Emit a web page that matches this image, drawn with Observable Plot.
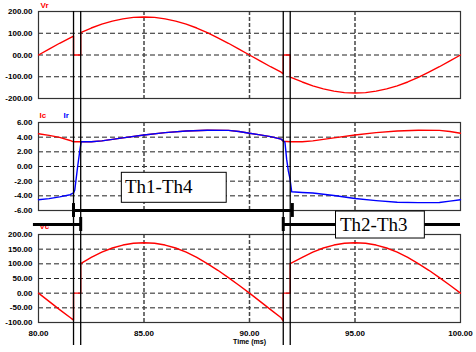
<!DOCTYPE html>
<html><head><meta charset="utf-8">
<script src="https://cdn.jsdelivr.net/npm/d3@7"></script>
<script src="https://cdn.jsdelivr.net/npm/@observablehq/plot@0.6"></script>
<style>
body{margin:0;background:#fff;}
#chart{position:relative;width:476px;height:352px;overflow:hidden;background:#fff;}
#chart svg{position:absolute;left:0;}
</style></head><body><div id="chart"></div>
<script>
// ---- data ----
const vrTime = [80,80.5,81,81.5,81.66, 81.66,82.0, 82.0,82.5,83,83.5,84,84.5,85,85.5,86,86.5,87,87.5,88,88.5,89,89.5,90,90.5,91,91.5,91.6, 91.6,91.93, 91.93,92.5,93,93.5,94,94.5,95,95.5,96,96.5,97,97.5,98,98.5,99,99.5,100];
const vrValue = [0,27,54,79,87, 0,0, 103,124,142,156,166,173,175,173,166,156,142,124,103,79,54,27,0,-27,-54,-79,-87, 0,0, -102,-124,-142,-156,-166,-173,-175,-173,-166,-156,-142,-124,-103,-79,-54,-27,0];

const vcTime = vrTime;
const vcValue = [0,-28,-56,-83,-92, 0,0, 101,122,140,154,164,170,172,170,164,154,140,122,101,78,53,27,0,-28,-56,-84,-95, 0,0, 101,122,140,154,164,170,172,170,164,154,140,122,101,78,53,27,0];

const icTime = [80,80.5,81,81.5,81.66,82.0,82.5,83,84,85,86,87,88,89,89.5,90,90.5,91,91.5,91.6,91.93,92.5,93,94,95,96,97,98,99,99.5,100];
const icValue = [4.46,4.25,3.98,3.55,3.37,3.37,3.38,3.5,3.9,4.3,4.62,4.85,4.95,4.93,4.78,4.54,4.32,4.08,3.73,3.45,3.37,3.38,3.5,3.9,4.3,4.62,4.85,4.95,4.93,4.78,4.54];

const irTime = [80,80.5,81,81.5,81.66,81.72,81.86,81.96,82.02,82.5,83,84,85,86,87,88,89,89.5,90,90.5,91,91.5,91.6,91.68,91.76,91.84,91.92,92.0,92.5,93,94,95,96,97,98,99,99.5,100];
const irValue = [-4.54,-4.38,-4.15,-3.85,-3.6,-3.2,0.1,2.2,3.37,3.38,3.5,3.9,4.3,4.62,4.85,4.95,4.93,4.78,4.54,4.32,4.08,3.73,3.5,3.3,1.0,-0.6,-1.7,-3.45,-3.55,-3.62,-3.95,-4.36,-4.65,-4.88,-4.92,-4.9,-4.72,-4.54];

const xTicks = [80,85,90,95,100];
const xTickLabels = ["80.00","85.00","90.00","95.00","100.00"];
const gridTimes = [85,90,95];
const vrTicks = [-200,-100,0,100,200];
const vrTickLabels = ["-200.00","-100.00","00.00","100.00","200.00"];
const iTicks = [-6,-4,-2,0,2,4,6];
const iTickLabels = ["-6.00","-4.00","-2.00","0.00","2.00","4.00","6.00"];
const vcTicks = [-100,-50,0,50,100,150,200];
const vcTickLabels = ["-100.00","-50.00","0.00","50.00","100.00","150.00","200.00"];

const commutationTimes = [81.66,82.0,91.6,91.93];

const thLabels = ["Th1-Th4","Th2-Th3"];
const thBoxX1 = [83.95,94.10], thBoxX2 = [88.92,98.31];
const thBoxY1 = [-0.86,-6.14], thBoxY2 = [-4.95,-9.82];
const thTextX = [84.1,94.29], thTextY = [-2.84,-7.98];
const thBarX1 = [81.66,79.76,91.6], thBarX2 = [92.03,82.0,100], thBarY = [-6,-7.9,-7.9];
const thTickX = [81.66,92.03,82.0,91.6];
const thTickY1 = [-5.05,-5.05,-6.95,-6.95], thTickY2 = [-6.95,-6.95,-8.86,-8.86];

// ---- layout ----
const W = 476, ML = 38, MR = 16;
const RED = "#ff0000", BLUE = "#0000ff";
const chart = document.getElementById("chart");
const pts = (t, v) => t.map((x, i) => ({t: x, v: v[i]}));

function panel({top, height, mt, mb, domain, ticks, labels, series, names, xAxis}) {
  const interior = ticks.slice(1, -1);
  const marks = [
    Plot.ruleY(interior, {stroke: "#222", strokeDasharray: "5,3", strokeWidth: 1}),
    Plot.ruleX(gridTimes, {stroke: "#444", strokeDasharray: "4,2", strokeWidth: 1.5}),
    Plot.frame({stroke: "#333", strokeWidth: 1.2}),
    ...series.map(s => Plot.line(pts(s.t, s.v), {x: "t", y: "v", stroke: s.color, strokeWidth: 1.4})),
    ...names.map(n => Plot.text([n.text], {frameAnchor: "top-left", textAnchor: "start", lineAnchor: "middle", dx: n.dx, dy: n.dy, fill: n.color, fontSize: 8, fontWeight: "bold"}))
  ];
  if (xAxis) marks.push(Plot.text(["Time (ms)"], {frameAnchor: "bottom", dy: 21, fontSize: 7, fontWeight: "bold"}));
  const svg = Plot.plot({
    width: W, height, marginLeft: ML, marginRight: MR, marginTop: mt, marginBottom: mb,
    x: {domain: [80, 100], axis: xAxis ? "bottom" : null, ticks: xTicks, tickFormat: d => xTickLabels[xTicks.indexOf(d)], tickSize: 0, tickPadding: 8, label: null},
    y: {domain, ticks, tickFormat: d => labels[ticks.indexOf(d)], tickSize: 0, tickPadding: 6, label: null},
    style: {fontFamily: "'Liberation Sans', Arial, sans-serif", fontSize: "8px", fontWeight: "bold", color: "#000", background: "transparent"},
    marks
  });
  svg.style.top = top + "px";
  chart.appendChild(svg);
}

panel({top: 0, height: 110, mt: 11, mb: 12, domain: [-200, 200], ticks: vrTicks, labels: vrTickLabels,
  series: [{t: vrTime, v: vrValue, color: RED}], names: [{text: "Vr", dx: 2, dy: -6.5, color: RED}]});
panel({top: 110, height: 112, mt: 12, mb: 12, domain: [-6, 6], ticks: iTicks, labels: iTickLabels,
  series: [{t: icTime, v: icValue, color: RED}, {t: irTime, v: irValue, color: BLUE}],
  names: [{text: "Ic", dx: 1, dy: -7.5, color: RED}, {text: "Ir", dx: 25, dy: -7.5, color: BLUE}]});
panel({top: 222, height: 130, mt: 12, mb: 30, domain: [-100, 200], ticks: vcTicks, labels: vcTickLabels,
  series: [{t: vcTime, v: vcValue, color: RED}], names: [{text: "Vc", dx: 1, dy: -8, color: RED}], xAxis: true});

// overlay: commutation lines, thyristor conduction bars and labels (Ir panel units)
const overlay = Plot.plot({
  width: W, height: 352, marginLeft: ML, marginRight: MR, marginTop: 11, marginBottom: 7,
  x: {domain: [80, 100], axis: null},
  y: {domain: [-6, 6], range: [210, 122], axis: null},
  style: {background: "transparent", overflow: "visible"},
  marks: [
    Plot.ruleX(commutationTimes, {stroke: "#000", strokeWidth: 1.3}),
    Plot.ruleY(thBarY, {x1: thBarX1, x2: thBarX2, y: thBarY, stroke: "#000", strokeWidth: 3}),
    Plot.ruleX(thTickX, {x: thTickX, y1: thTickY1, y2: thTickY2, stroke: "#000", strokeWidth: 3}),
    Plot.rect(thLabels, {x1: thBoxX1, x2: thBoxX2, y1: thBoxY1, y2: thBoxY2, fill: "white", stroke: "#000", strokeWidth: 1}),
    Plot.text(thLabels, {x: thTextX, y: thTextY, text: d => d, textAnchor: "start", lineAnchor: "middle", fontFamily: "'Liberation Serif', 'Times New Roman', serif", fontSize: 19, fill: "#000"})
  ]
});
overlay.style.top = "0px";
chart.appendChild(overlay);
</script></body></html>
